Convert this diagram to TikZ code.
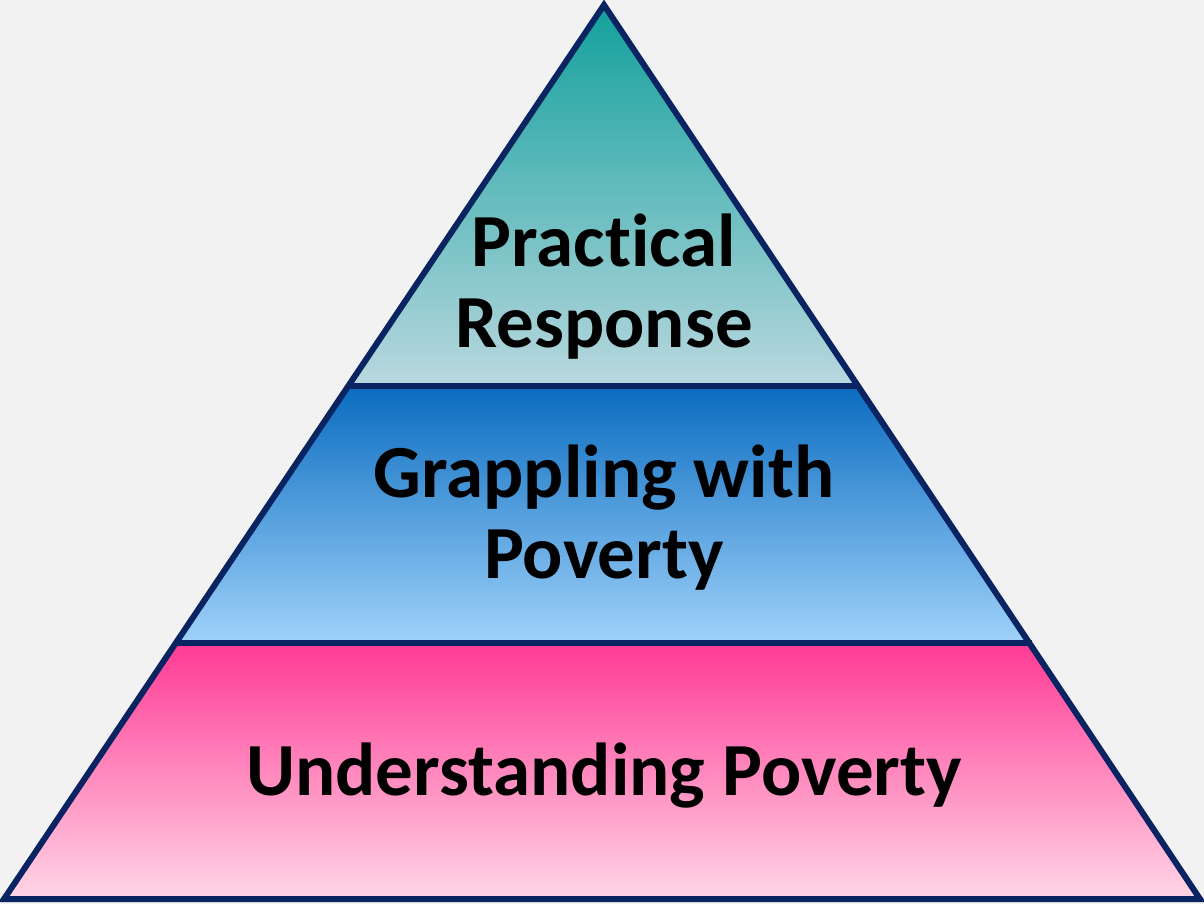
\documentclass[tikz,border=0pt]{standalone}
\usepackage{fontspec}
\setmainfont{Carlito}[Ligatures=NoCommon]
\usepackage{tikz}

\definecolor{fond}{HTML}{F2F2F2}
\definecolor{contour}{HTML}{0A2462}
\definecolor{hautA}{HTML}{12A09C}
\definecolor{hautB}{HTML}{B9D8DF}
\definecolor{milieuA}{HTML}{0A6CC0}
\definecolor{milieuB}{HTML}{A0D2FA}
\definecolor{basA}{HTML}{FF3A95}
\definecolor{basB}{HTML}{FFD6E6}

\tikzset{
  etage/.style={font=\bfseries\fontsize{37.5}{40.5}\selectfont, align=center, inner sep=0pt, anchor=base},
  contour/.style={draw=contour, line width=3pt}
}

\begin{document}
\begin{tikzpicture}[x=0.5pt, y=-0.5pt]
    \fill[fond] (0, 0) rectangle (1204, 904);
    \useasboundingbox (0, 0) rectangle (1204, 904);

    % sommets
    \coordinate (sommet) at (604, 5);
    \coordinate (gauche) at (4, 899);
    \coordinate (droite) at (1200, 899);
    \coordinate (g1) at (348.3, 386);
    \coordinate (d1) at (859.7, 386);
    \coordinate (g2) at (175.8, 643);
    \coordinate (d2) at (1032.2, 643);

    % etages
    \shade[top color=hautA, bottom color=hautB] (sommet) -- (d1) -- (g1) -- cycle;
    \shade[top color=milieuA, bottom color=milieuB] (g1) -- (d1) -- (d2) -- (g2) -- cycle;
    \shade[top color=basA, bottom color=basB] (g2) -- (d2) -- (droite) -- (gauche) -- cycle;

    % contours
    \draw[contour] (g1) -- (d1);
    \draw[contour] (g2) -- (d2);
    \draw[contour] (sommet) -- (droite) -- (gauche) -- cycle;

    \node[etage] (pratique) at (604, 347) {Practical\\Response};
    \node[etage] (lutte) at (604, 578) {Grappling with\\Poverty};
    \node[etage] (comprendre) at (604, 795) {Understanding Poverty};

  \end{tikzpicture}
\end{document}
